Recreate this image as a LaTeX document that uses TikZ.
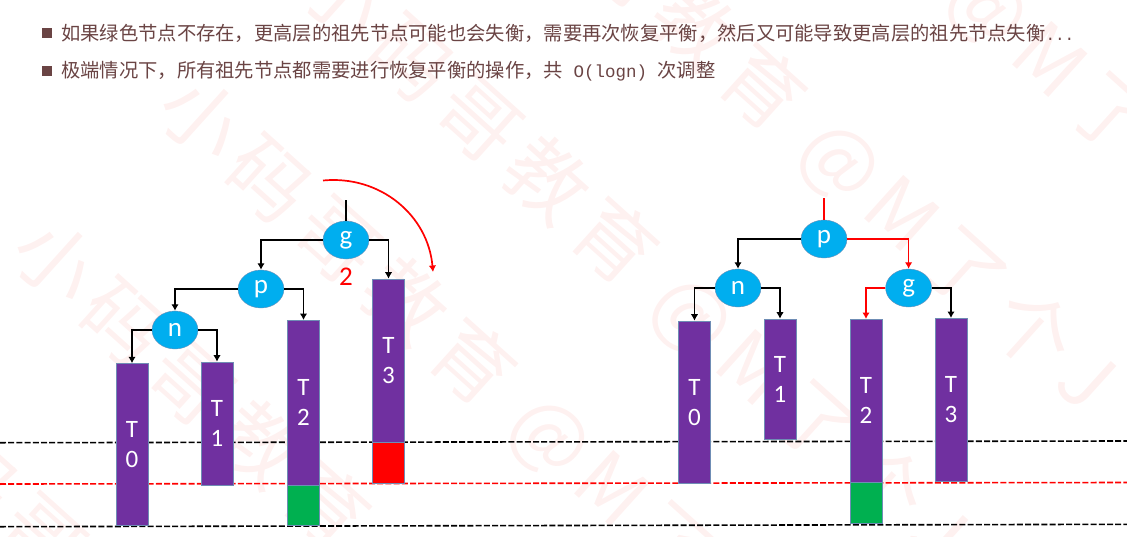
\documentclass[tikz,border=0pt]{standalone}
\usepackage{fontspec}
\setmainfont{Carlito}
\newfontfamily\cjk{Noto Sans CJK SC}
\newfontfamily\wmfont[LetterSpace=14]{Noto Sans CJK SC}
\newfontfamily\monof{Liberation Mono}
\usetikzlibrary{arrows.meta,shapes.geometric}
\definecolor{barP}{HTML}{7030A0}
\definecolor{barB}{HTML}{6F8DB5}
\definecolor{nodeB}{HTML}{00AEEF}
\definecolor{txtB}{HTML}{6A4444}
\definecolor{wm}{HTML}{FEF1F0}
\definecolor{lowG}{HTML}{00B050}
\tikzset{
  x=1pt,y=-1pt,
  tree/.style={ellipse,fill=nodeB,draw=barB,line width=.4pt,minimum width=46pt,minimum height=38pt,inner sep=0pt,text=white,font=\fontsize{27}{27}\selectfont},
  bar/.style={rectangle,draw=barB,line width=.7pt,fill=barP,minimum width=32pt,anchor=north,inner sep=0pt,text=white,align=center,font=\fontsize{25}{30}\selectfont},
  extra/.style={rectangle,draw=barB,line width=.7pt,minimum width=32pt,anchor=north,inner sep=0pt},
  link/.style={draw=black,line width=1.7pt,-{Latex[length=6.5pt,width=7.5pt]}},
  redlink/.style={draw=red,line width=1.7pt,-{Latex[length=6.5pt,width=7.5pt]}},
  level/.style={line width=1.6pt,dash pattern=on 6pt off 2.2pt},
  bullet/.style={rectangle,fill=txtB,minimum size=10pt,inner sep=0pt},
  line/.style={anchor=west,inner sep=0pt,text=txtB,font=\cjk\fontsize{19.3}{21}\selectfont},
  mark text/.style={anchor=west,text=wm,rotate=-42,font=\wmfont\fontsize{80}{80}\selectfont,inner sep=0pt},
}
\begin{document}
\begin{tikzpicture}
\useasboundingbox (0,0) rectangle (1127,536);
% watermark
\node[mark text] (wma) at (-124,390) {小码哥教育 @M了个J};
\node[mark text] (wmb) at (24,236) {小码哥教育 @M了个J};
\node[mark text] (wmc) at (170,93) {小码哥教育 @M了个J};
\node[mark text] (wmd) at (312,-28) {小码哥教育 @M了个J};
\node[mark text] (wme) at (460,-182) {小码哥教育 @M了个J};
\node[mark text] (wmf) at (608,-336) {小码哥教育 @M了个J};
% level lines
\coordinate (la0) at (0,442.7); \coordinate (la1) at (1127,441);
\coordinate (lb0) at (0,484); \coordinate (lb1) at (1127,482.5);
\coordinate (lc0) at (0,526.7); \coordinate (lc1) at (1127,524.3);
\draw[level,black] (la0) -- (la1);
\draw[level,red] (lb0) -- (lb1);
\draw[level,black] (lc0) -- (lc1);
% text
\node[bullet] (b1) at (47,33) {};
\node[line] (t1) at (61,33) {如果绿色节点不存在，更高层的祖先节点可能也会失衡，需要再次恢复平衡，然后又可能导致更高层的祖先节点失衡{\monof\fontsize{16}{21}\selectfont ...}};
\node[bullet] (b2) at (47,71) {};
\node[line] (t2) at (61,71) {极端情况下，所有祖先节点都需要进行恢复平衡的操作，共{\monof\fontsize{17.5}{21}\selectfont\ O(logn)\ }次调整};
% left bars
\node[bar,minimum height=162pt] (LT0) at (132,363.3) {T\\0};
\node[bar,minimum height=123.3pt] (LT1) at (217,361.7) {T\\1};
\node[bar,minimum height=165pt] (LT2) at (303.5,320) {T\\2};
\node[extra,fill=lowG,minimum height=40pt] (LG) at (303.5,485) {};
\node[bar,minimum height=163pt] (LT3) at (388.5,278.7) {T\\3};
\node[extra,fill=red,minimum height=40.5pt] (LR) at (388.5,442) {};
% left tree
\node[tree] (Lg) at (346,240) {g};
\node[tree] (Lp) at (261,289) {p};
\node[tree] (Ln) at (175,330) {n};
\coordinate (Ltop) at (346,200);
\draw[line width=1.7pt] (Ltop) -- (Lg.north);
\draw[link] (Lg.west) -| (Lp.north);
\draw[link] (Lg.east) -| (LT3.north);
\draw[link] (Lp.west) -| (Ln.north);
\draw[link] (Lp.east) -| (LT2.north);
\draw[link] (Ln.west) -| (LT0.north);
\draw[link] (Ln.east) -| (LT1.north);
\node[text=red,font=\fontsize{27}{27}\selectfont,inner sep=0pt] (two) at (346,277) {2};
\coordinate (arcA) at (323,180.5);
\coordinate (arcB) at (433,272);
\draw[red,line width=1.7pt,-{Latex[length=6.5pt,width=7.5pt]}] (arcA) .. controls (380,175) and (428,215) .. (arcB);
% right bars
\node[bar,minimum height=162.3pt] (RT0) at (694.5,320.7) {T\\0};
\node[bar,minimum height=120.3pt] (RT1) at (780,318.7) {T\\1};
\node[bar,minimum height=163pt] (RT2) at (866,319) {T\\2};
\node[extra,fill=lowG,minimum height=40.7pt] (RG) at (866,482) {};
\node[bar,minimum height=162.7pt] (RT3) at (951,318) {T\\3};
% right tree
\node[tree] (Rp) at (824,239) {p};
\node[tree] (Rn) at (738,288) {n};
\node[tree] (Rg) at (908.6,288) {g};
\coordinate (Rtop) at (824,198);
\draw[red,line width=1.7pt] (Rtop) -- (Rp.north);
\draw[link] (Rp.west) -| (Rn.north);
\draw[redlink] (Rp.east) -| (Rg.north);
\draw[link] (Rn.west) -| (RT0.north);
\draw[link] (Rn.east) -| (RT1.north);
\draw[redlink] (Rg.west) -| (RT2.north);
\draw[link] (Rg.east) -| (RT3.north);
\end{tikzpicture}
\end{document}
